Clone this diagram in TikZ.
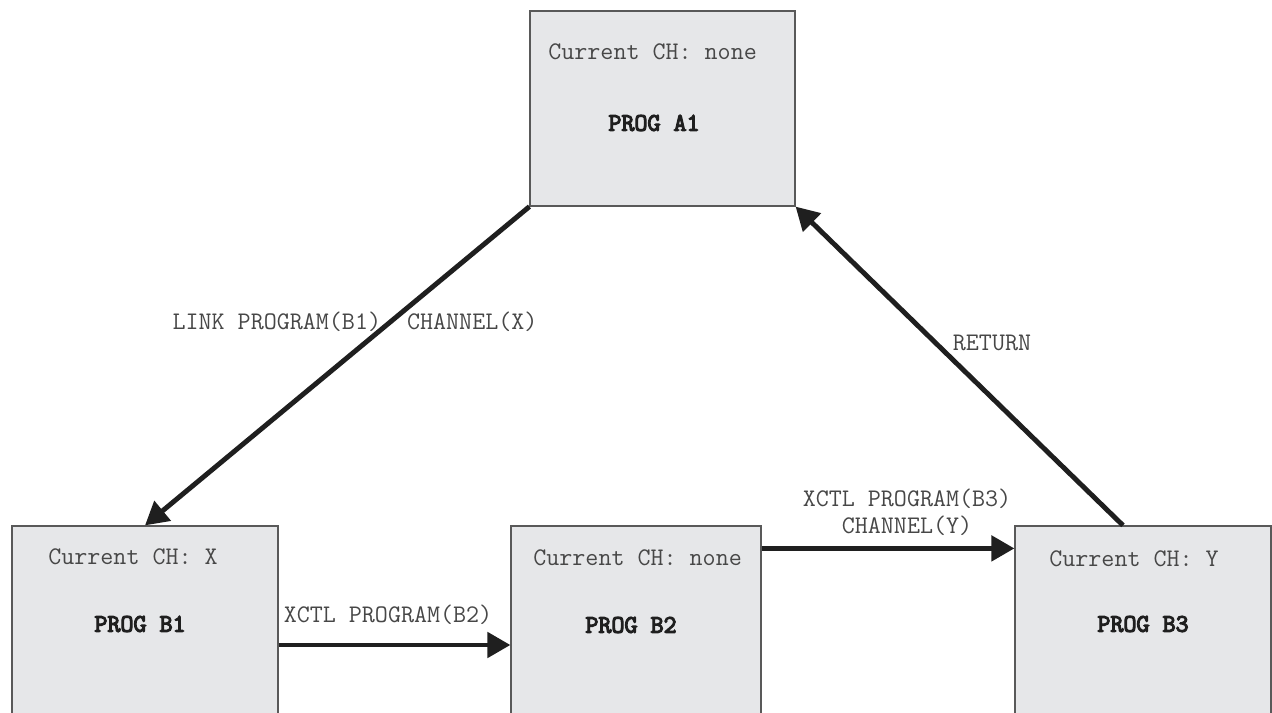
\documentclass[tikz,border=0pt]{standalone}
\usepackage{fontspec}
\newfontfamily\progfont{Latin Modern Mono}[FakeBold=4.5]
\usetikzlibrary{arrows.meta,positioning}
\def\textsize{\fontsize{14.4}{15.6}\selectfont}
\colorlet{box edge}{black!65}
\definecolor{box area}{HTML}{E6E7E9}
\colorlet{ch text}{black!72}
\tikzset{progbox/.style={rectangle, fill=box area, draw=box edge, line width=0.7pt},
    chlabel/.style={font=\ttfamily\textsize, text=ch text, inner sep=0pt},
    proglabel/.style={font=\progfont\textsize, text=black!88, inner sep=0pt},
    calllabel/.style={font=\ttfamily\textsize, text=ch text, inner sep=0pt, align=center},
    callarrow/.style={line width=2.8pt, draw=black!88,
        -{Triangle[length=0.46cm, width=0.5cm]}}}

\begin{document}
\begin{tikzpicture}[x=0.02cm, y=-0.02cm]
            \useasboundingbox (0,0) rectangle (1272,713);
            \clip (0,0) rectangle (1272,713);
            \node[progbox, minimum width=5.3cm, minimum height=3.9cm] (A1) at (662.5,108.5) {};
            \node[progbox, minimum width=5.32cm, minimum height=4.76cm] (B1) at (145,645) {};
            \node[progbox, minimum width=5.0cm, minimum height=4.76cm] (B2) at (636,645) {};
            \node[progbox, minimum width=5.12cm, minimum height=4.76cm] (B3) at (1143,645) {};

            \node[chlabel, anchor=west] (A1ch) at (548,52) {Current CH: none};
            \node[proglabel] (A1name) at (654,123) {PROG A1};
            \node[chlabel, anchor=west] (B1ch) at (48,557) {Current CH: X};
            \node[proglabel] (B1name) at (140,624) {PROG B1};
            \node[chlabel, anchor=west] (B2ch) at (533,558) {Current CH: none};
            \node[proglabel] (B2name) at (631,625) {PROG B2};
            \node[chlabel, anchor=west] (B3ch) at (1049,559) {Current CH: Y};
            \node[proglabel] (B3name) at (1143,624) {PROG B3};

            \draw[callarrow] (A1.south west) -- (B1.north);
            \draw[callarrow] (B1.east) -- (B2.west);
            \draw[callarrow] ([yshift=-0.46cm]B2.north east) -- ([yshift=-0.46cm]B3.north west);
            \draw[callarrow] ([xshift=-0.4cm]B3.north) -- (A1.south east);

            \node[calllabel] (linklbl) at (355,322) {LINK PROGRAM(B1)\ \ CHANNEL(X)};
            \node[calllabel] (xctlBtwolbl) at (388,615) {XCTL PROGRAM(B2)};
            \node[calllabel] (xctlBthreelbl) at (907,512) {XCTL PROGRAM(B3)\\CHANNEL(Y)};
            \node[calllabel] (returnlbl) at (992,343) {RETURN};
        \end{tikzpicture}
\end{document}
